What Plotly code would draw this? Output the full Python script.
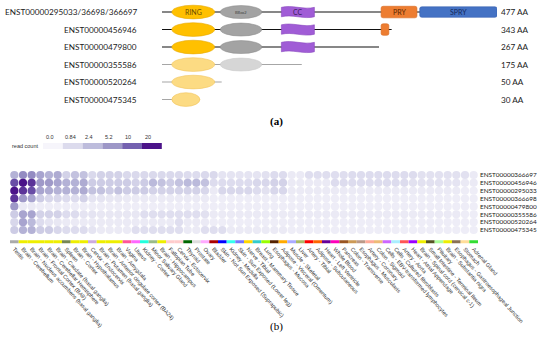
import numpy as np
import plotly.graph_objects as go
from plotly.colors import sample_colorscale

# ---------------- (a) protein domain schematic data ----------------
isoforms_a = ["ENST00000295033/36698/366697", "ENST00000456946", "ENST00000479800",
              "ENST00000355586", "ENST00000520264", "ENST00000475345"]
protein_len_aa = [477, 343, 267, 175, 50, 30]
line_end = [477, 327, 309, 199, 85, 54]           # schematic drawn extent
faded = [False, False, False, True, True, True]
ring_dom = [(14, 75), (14, 75), (14, 75), (14, 75), (14, 75), (14, 54)]
bbox2_dom = [(83, 142), (83, 142), (83, 142), (83, 142), None, None]
cc_dom = [(170, 217), (170, 217), (170, 217), None, None, None]
pry_dom = [(312, 363), (312, 323), None, None, None, None]
spry_dom = [(367, 477), None, None, None, None, None]

# ---------------- (b) isoform expression data ----------------
tissues = ["Testis", "Brain - Cerebellum", "Brain - Nucleus accumbens (basal ganglia)",
           "Brain - Frontal Cortex (BA9)", "Brain - Cerebellar Hemisphere", "Brain - Caudate (basal ganglia)",
           "Spleen", "Brain - Cortex", "Brain - Hypothalamus", "Cervix - Endocervix",
           "Brain - Putamen (basal ganglia)", "Brain - Anterior cingulate cortex (BA24)", "Brain - Amygdala",
           "Vagina", "Uterus", "Kidney - Cortex", "Minor Salivary Gland", "Brain - Hippocampus",
           "Fallopian Tube", "Cervix - Ectocervix", "Thyroid", "Prostate", "Ovary", "Bladder",
           "Skin - Not Sun Exposed (Suprapubic)", "Kidney - Medulla", "Skin - Sun Exposed (Lower leg)",
           "Nerve - Tibial", "Breast - Mammary Tissue", "Lung", "Esophagus - Mucosa",
           "Adipose - Visceral (Omentum)", "Muscle - Skeletal", "Liver", "Artery - Tibial",
           "Adipose - Subcutaneous", "Heart - Left Ventricle", "Whole Blood", "Pancreas", "Colon - Transverse",
           "Esophagus - Muscularis", "Artery - Coronary", "Colon - Sigmoid", "Cells - EBV-transformed lymphocytes",
           "Cells - Cultured fibroblasts", "Artery - Aorta", "Heart - Atrial Appendage",
           "Brain - Spinal cord (cervical c-1)", "Small Intestine - Terminal Ileum", "Pituitary",
           "Brain - Substantia nigra", "Esophagus - Gastroesophageal Junction", "Stomach", "Adrenal Gland"]
tissue_colors = ["#AAAAAA", "#EEEE00", "#EEEE00", "#EEEE00", "#EEEE00", "#EEEE00", "#778855", "#EEEE00",
                 "#EEEE00", "#CCAADD", "#EEEE00", "#EEEE00", "#EEEE00", "#FF5599", "#FF66FF", "#22FFDD",
                 "#99BB88", "#EEEE00", "#FFCCCC", "#FFCCCC", "#006600", "#DDDDDD", "#FFAAFF", "#AA0000",
                 "#0000FF", "#33FFEE", "#7777FF", "#FFD700", "#33CCCC", "#99FF00", "#552200", "#FFAA00",
                 "#AAAAFF", "#AABB66", "#FF0000", "#FF6600", "#660099", "#FF00BB", "#995522", "#CC9955",
                 "#BB9988", "#FFAA99", "#EEBB77", "#CC66FF", "#AAEEFF", "#FF5555", "#9900FF", "#EEEE00",
                 "#555522", "#AAFF99", "#EEEE00", "#8B7355", "#FFDD99", "#33DD33"]
isoforms_b = ["ENST00000366697", "ENST00000456946", "ENST00000295033", "ENST00000366698",
              "ENST00000479800", "ENST00000355586", "ENST00000520264", "ENST00000475345"]

expr_366697 = [3, 6, 6, 4, 3, 3.5, 1.2, 2, 2, 0.9, 1.2, 1.2, 1.2, 0.9, 0.9, 0.9, 0.9, 0.9, 0.9, 0.9,
               0.8, 0.8, 0.9, 0.9, 0.5, 0.5, 0.5, 0.5, 0.5, 0.6, 0.8, 0.8, 0.3, 0.3, 0.7, 0.7, 0.7, 0.7,
               0.7, 0.8, 0.8, 0.8, 0.8, 0.8, 0.8, 0.8, 0.8, 0.6, 0.6, 0.6, 0.6, 0.6, 0.6, 0.3]
expr_456946 = [12, 20, 15, 5, 5, 4, 3, 3, 3.5, 1.5, 1.5, 1.5, 1.5, 1.5, 1.2, 1.5, 2.5, 2, 1.5, 2,
               2.5, 2.5, 2, 0.8, 0.8, 0.8, 0.8, 0.8, 1, 1, 1.2, 1.2, 0.3, 0.3, 0.3, 0.3, 0.3, 0.8,
               0.8, 0.8, 0.8, 0.8, 0.8, 0.8, 0.8, 0.8, 0.6, 0.6, 0.6, 0.6, 0.5, 0.5, 0.3, 0.3]
expr_295033 = [20, 15, 12, 4, 3.5, 3, 3, 3, 3.5, 2, 2, 1.5, 2, 1.5, 1.5, 1.5, 1.2, 1.2, 1.2, 1.2,
               1.2, 1.2, 1, 0.3, 1, 1, 1, 1, 0.8, 0.6, 1, 1, 0.3, 0.3, 0.3, 0.3, 0.3, 0.3, 0.3, 0.3,
               0.3, 0.3, 0.3, 0.3, 0.3, 0.3, 0.3, 0.3, 0.3, 0.3, 0.3, 0.3, 0.2, 0.2]
expr_366698 = [15, 5, 4, 1.5, 1, 1, 0.8, 0.8, 1.2, 0.5, 0.5, 0.4, 0.4, 0.3, 0.3, 0.3, 0.3, 0.3, 0.3, 0.3,
               0.3, 0.3, 0.3, 0.2, 0.2, 0.2, 0.2, 0.2, 0.2, 0.2, 0.2, 0.2, 0.2, 0.2, 0.2, 0.2, 0.2, 0.2,
               0.2, 0.2, 0.2, 0.2, 0.2, 0.2, 0.2, 0.2, 0.2, 0.2, 0.2, 0.2, 0.2, 0.2, 0.2, 0.2]
expr_479800 = [5, 0.3, 0.3, 0.2, 0.2, 0.2, 0.2, 0.2, 0.2, 0.2, 0.2, 0.2, 0.2, 0.2, 0.2, 0.2, 0.2, 0.2,
               0.2, 0.2, 0.2, 0.2, 0.2, 0.2, 0.2, 0.2, 0.2, 0.2, 0.2, 0.2, 0.2, 0.2, 0.2, 0.2, 0.2, 0.2,
               0.2, 0.2, 0.2, 0.2, 0.2, 0.2, 0.2, 0.2, 0.2, 0.2, 0.2, 0.2, 0.2, 0.2, 0.2, 0.2, 0.2, 0.2]
expr_355586 = [1.5, 4, 4, 1.2, 1.2, 1.2, 0.8, 0.8, 0.5, 0.5, 0.4, 0.4, 0.4, 0.4, 0.4, 0.7, 0.7, 0.7,
               0.7, 0.7, 0.7, 0.7, 0.6, 0.3, 0.3, 0.3, 0.3, 0.3, 0.3, 0.3, 0.3, 0.3, 0.3, 0.3, 0.3, 0.3,
               0.3, 0.3, 0.3, 0.3, 0.3, 0.3, 0.3, 0.3, 0.3, 0.3, 0.3, 0.3, 0.3, 0.3, 0.3, 0.3, 0.2, 0.2]
expr_520264 = [1, 4, 2.5, 0.8, 0.5, 0.4, 0.3, 0.3, 0.3, 0.3, 0.3, 0.3, 0.3, 0.3, 0.3, 0.3, 0.3, 0.3,
               0.3, 0.7, 0.3, 0.3, 0.3, 0.2, 0.2, 0.2, 0.2, 0.2, 0.2, 0.2, 0.2, 0.2, 0.2, 0.2, 0.2, 0.2,
               0.2, 0.2, 0.2, 0.2, 0.2, 0.2, 0.2, 0.2, 0.2, 0.2, 0.2, 0.2, 0.2, 0.2, 0.2, 0.2, 0.2, 0.2]
expr_475345 = [1.5, 3, 3, 1.5, 1.5, 1, 0.8, 0.8, 0.8, 0.5, 0.3, 0.3, 0.3, 0.3, 0.7, 0.7, 0.7, 0.7,
               0.7, 0.7, 0.3, 0.3, 0.7, 0.7, 0.7, 0.3, 0.3, 0.3, 0.3, 0.3, 0.3, 0.3, 0.2, 0.2, 0.2, 0.2,
               0.2, 0.2, 0.2, 0.2, 0.2, 0.2, 0.2, 0.2, 0.2, 0.2, 0.2, 0.2, 0.2, 0.2, 0.2, 0.2, 0.2, 0.2]
legend_breaks = [0.0, 0.84, 2.4, 5.2, 10, 20]

# ---------------- figure ----------------
W, H = 550, 344
def px_x(p): return p / W
def px_y(p): return 1 - p / H

fig = go.Figure()
shapes = []
annotations = []

# ---- (a) ----
RING_C, RING_F = "#FFC000", "#FCDB83"
BB_C, BB_F = "#A3A3A3", "#D6D6D6"
CC_C, PRY_C, SPRY_C = "#A05CD6", "#ED7D31", "#4472C4"

def rrect(x0, x1, yc, h, rx, ry):
    y0, y1 = yc - h, yc + h
    return (f"M{x0+rx},{y0} L{x1-rx},{y0} Q{x1},{y0} {x1},{y0+ry} L{x1},{y1-ry} "
            f"Q{x1},{y1} {x1-rx},{y1} L{x0+rx},{y1} Q{x0},{y1} {x0},{y1-ry} "
            f"L{x0},{y0+ry} Q{x0},{y0} {x0+rx},{y0} Z")

def wave(x0, x1, yc, h, d):
    w = x1 - x0
    return (f"M{x0},{yc-h} C{x0+w/3},{yc-h-d} {x0+2*w/3},{yc-h+d} {x1},{yc-h} "
            f"L{x1},{yc+h} C{x0+2*w/3},{yc+h+d} {x0+w/3},{yc+h-d} {x0},{yc+h} Z")

for i in range(len(isoforms_a)):
    r = i + 1
    fd = faded[i]
    fig.add_trace(go.Scatter(x=[0, line_end[i]], y=[r, r], mode="lines", xaxis="x2", yaxis="y2",
                             line=dict(color="#A6A6A6" if fd else "#111111", width=1.1),
                             hoverinfo="skip", showlegend=False))
    ref = dict(xref="x2", yref="y2", layer="above")
    if ring_dom[i]:
        a, b = ring_dom[i]
        shapes.append(dict(type="circle", x0=a, x1=b, y0=r - 0.39, y1=r + 0.39,
                           fillcolor=RING_F if fd else RING_C,
                           line=dict(color="#F2C55C" if fd else "#E6A800", width=0.6), **ref))
    if bbox2_dom[i]:
        a, b = bbox2_dom[i]
        shapes.append(dict(type="circle", x0=a, x1=b, y0=r - 0.37, y1=r + 0.37,
                           fillcolor=BB_F if fd else BB_C,
                           line=dict(color="#CCCCCC" if fd else "#8F8F8F", width=0.6), **ref))
    if cc_dom[i]:
        a, b = cc_dom[i]
        shapes.append(dict(type="path", path=wave(a, b, r, 0.27, 0.16), fillcolor=CC_C,
                           line=dict(color="#8A48C0", width=0.6), **ref))
    if pry_dom[i]:
        a, b = pry_dom[i]
        shapes.append(dict(type="path", path=rrect(a, b, r, 0.33, 3, 0.1), fillcolor=PRY_C,
                           line=dict(color="#D96A20", width=0.6), **ref))
    if spry_dom[i]:
        a, b = spry_dom[i]
        shapes.append(dict(type="path", path=rrect(a, b, r, 0.3, 3, 0.1), fillcolor=SPRY_C,
                           line=dict(color="#3560B0", width=0.6), **ref))
    annotations.append(dict(text=isoforms_a[i], xref="paper", yref="y2", x=px_x(139), y=r,
                            xanchor="right", yanchor="middle", showarrow=False,
                            font=dict(family="Lato", size=8.2, color="#222222")))
    annotations.append(dict(text=f"{protein_len_aa[i]} AA", xref="paper", yref="y2", x=px_x(499), y=r,
                            xanchor="left", yanchor="middle", showarrow=False,
                            font=dict(family="Lato", size=8.2, color="#222222")))

def dom_label(txt, dom, size, color):
    annotations.append(dict(text=txt, xref="x2", yref="y2", x=(dom[0] + dom[1]) / 2, y=1,
                            showarrow=False, font=dict(family="Lato", size=size, color=color)))
dom_label("RING", ring_dom[0], 7, "#6B4E00")
dom_label("BBox2", bbox2_dom[0], 4, "#444444")
dom_label("CC", cc_dom[0], 7, "#3D1F5C")
dom_label("PRY", pry_dom[0], 7, "#5A2600")
dom_label("SPRY", spry_dom[0], 7, "#14285A")

annotations.append(dict(text="<b>(a)</b>", xref="paper", yref="paper", x=px_x(276), y=px_y(122),
                        showarrow=False, font=dict(family="Liberation Serif", size=11, color="#000")))
annotations.append(dict(text="(b)", xref="paper", yref="paper", x=px_x(276), y=px_y(335),
                        showarrow=False, font=dict(family="Liberation Serif", size=11, color="#000")))

# ---- (b) heat dots ----
brk = np.array(legend_breaks)
pos = np.log1p(brk) / np.log1p(brk.max())
cs_colors = ["#f6f5fb", "#dcdbed", "#bdbcdc", "#9d97c7", "#7461b0", "#4b1389"]
colorscale = [[float(p), c] for p, c in zip(pos, cs_colors)]

rows = [expr_366697, expr_456946, expr_295033, expr_366698, expr_479800,
        expr_355586, expr_520264, expr_475345]
xs, ys, cv = [], [], []
for ri, vals in enumerate(rows):
    for ci, v in enumerate(vals):
        xs.append(ci + 1)
        ys.append(ri + 1)
        cv.append(np.log1p(v) / np.log1p(brk.max()))
fig.add_trace(go.Scatter(x=xs, y=ys, mode="markers", showlegend=False, hoverinfo="skip",
                         marker=dict(symbol="circle", size=8.2, color=cv, colorscale=colorscale,
                                     cmin=0, cmax=1, line=dict(width=0))))

for ci, col in enumerate(tissue_colors):
    shapes.append(dict(type="rect", xref="x", yref="y", x0=ci + 0.5, x1=ci + 1.5, y0=9.3, y1=9.7,
                       fillcolor=col, line=dict(width=0), layer="below"))

annotations.append(dict(text="read count", xref="paper", yref="paper", x=px_x(10), y=px_y(146),
                        xanchor="left", showarrow=False,
                        font=dict(family="Liberation Sans", size=5.5, color="#333")))
leg_x0, leg_w = 43, 19.8
leg_cols = sample_colorscale(colorscale, list(pos))
for k, b in enumerate(legend_breaks):
    x0 = leg_x0 + k * leg_w
    shapes.append(dict(type="rect", xref="paper", yref="paper", x0=px_x(x0), x1=px_x(x0 + leg_w),
                       y0=px_y(149), y1=px_y(143), fillcolor=leg_cols[k], line=dict(width=0)))
    annotations.append(dict(text=(f"{b:.1f}" if b == 0 else f"{b:g}"), xref="paper", yref="paper",
                            x=px_x(x0 + 0.5), y=px_y(137.5), xanchor="left", showarrow=False,
                            font=dict(family="Liberation Sans", size=5.5, color="#333")))

fig.update_layout(
    width=W, height=H, margin=dict(l=0, r=0, t=0, b=0),
    paper_bgcolor="white", plot_bgcolor="rgba(0,0,0,0)",
    shapes=shapes, annotations=annotations,
    xaxis=dict(domain=[px_x(10), px_x(478)], range=[0.5, 54.5], showgrid=False, zeroline=False,
               showline=False, tickmode="array", tickvals=list(range(1, 55)), ticktext=tissues,
               tickangle=48, ticks="", tickfont=dict(family="Liberation Sans", size=5.5, color="#333"),
               automargin=False),
    yaxis=dict(domain=[px_y(244), px_y(170.3)], range=[9.78, 0.4], showgrid=False, zeroline=False,
               showline=False, side="right", tickmode="array", tickvals=list(range(1, 9)),
               ticktext=isoforms_b, ticks="", tickfont=dict(family="Lato", size=6.4, color="#222"),
               ticklabelstandoff=1, automargin=False),
    xaxis2=dict(domain=[px_x(162), px_x(497)], range=[0, 477], visible=False, anchor="y2"),
    yaxis2=dict(domain=[px_y(108.3), px_y(3.3)], range=[6.5, 0.5], visible=False, anchor="x2"),
)

fig.write_html("out.html", config={"displayModeBar": False},
               post_script="document.body.style.margin='0px';")
